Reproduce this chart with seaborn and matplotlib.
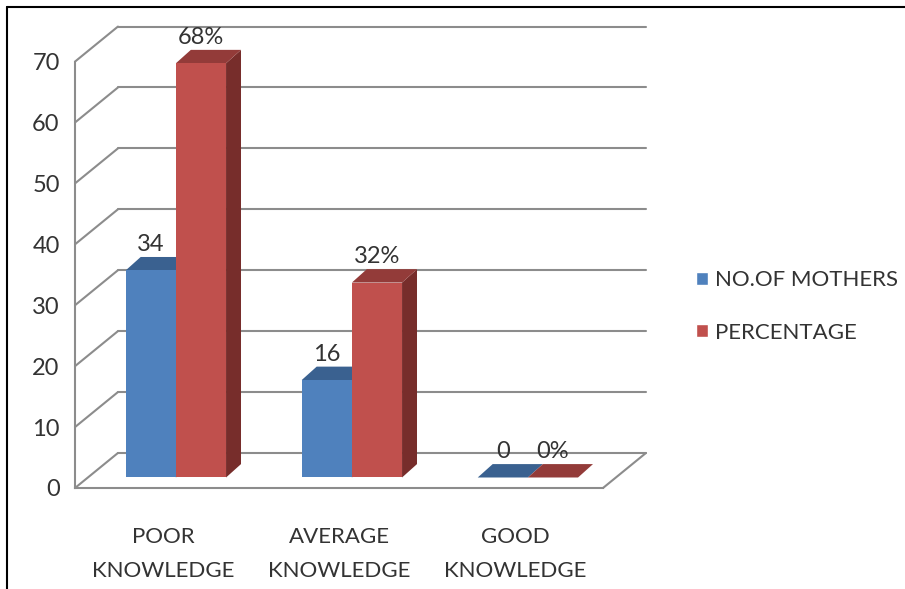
import pandas as pd
import matplotlib.pyplot as plt
import seaborn as sns
from matplotlib.patches import Polygon, Patch
from matplotlib.lines import Line2D

categories = ["POOR\nKNOWLEDGE", "AVERAGE\nKNOWLEDGE", "GOOD\nKNOWLEDGE"]
series = ["NO.OF MOTHERS", "PERCENTAGE"]
mothers = [34, 16, 0]
percentage = [68, 32, 0]
mother_labels = ["34", "16", "0"]
percent_labels = ["68%", "32%", "0%"]
yticks = [0, 10, 20, 30, 40, 50, 60, 70]

sns.set_style("white")
plt.rcParams["font.family"] = ["Lato", "DejaVu Sans"]

df = pd.DataFrame({
    "category": categories * 2,
    "series": [series[0]] * 3 + [series[1]] * 3,
    "value": mothers + percentage,
})

blue, red = "#4F81BD", "#C0504D"
tops = {blue: "#3A6190", red: "#933B39"}
sides = {blue: "#2F4F78", red: "#772D2B"}
grid_c = "#8C8C8C"
txt_c = "#333333"

fig = plt.figure(figsize=(9.05, 5.89), dpi=100)
ax = fig.add_axes([75/905, 101/589, 572/905, 466/589])

sns.barplot(data=df, x="category", y="value", hue="series",
            palette=[blue, red], width=0.57, saturation=1,
            legend=False, ax=ax, zorder=3)

# depth of the "3d" box (data units) and where bars sit in it
DX, DY = 0.244, 5.75
f = 0.3
bdx, bdy = 0.085, 2.2

ax.set_xlim(-0.5, 2.75)
ax.set_ylim(0, 76.5)

# back wall, side wall and floor lines
for v in yticks:
    ax.plot([-0.5 + DX, 2.5 + DX], [v + DY, v + DY], color=grid_c, lw=1.5, zorder=1, clip_on=False)
    ax.plot([-0.5, -0.5 + DX], [v, v + DY], color=grid_c, lw=1.5, zorder=1, clip_on=False)
ax.plot([2.5, 2.5 + DX], [0, DY], color=grid_c, lw=1.5, zorder=1, clip_on=False)

for cont, col in zip(ax.containers, [blue, red]):
    for p in cont:
        x0 = p.get_x() + f * DX
        p.set_x(x0)
        p.set_y(f * DY)
        w, h = p.get_width(), p.get_height()
        y0, y1, x1 = f * DY, f * DY + h, x0 + w
        ax.add_patch(Polygon([(x1, y0), (x1 + bdx, y0 + bdy), (x1 + bdx, y1 + bdy), (x1, y1)],
                             closed=True, color=sides[col], zorder=2.5, lw=0))
        ax.add_patch(Polygon([(x0, y1), (x1, y1), (x1 + bdx, y1 + bdy), (x0 + bdx, y1 + bdy)],
                             closed=True, color=tops[col], zorder=2.6, lw=0))
        p.set_linewidth(0)

for cont, labs in zip(ax.containers, [mother_labels, percent_labels]):
    ax.bar_label(cont, labels=labs, padding=11, fontsize=17, color=txt_c)

sns.despine(ax=ax, top=True, right=True)
ax.spines["left"].set_bounds(0, 70)
ax.spines["bottom"].set_bounds(-0.5, 2.5)
for s in ["left", "bottom"]:
    ax.spines[s].set_color(grid_c)
    ax.spines[s].set_linewidth(1.5)

ax.set_yticks(yticks)
ax.set_yticklabels([str(t) for t in yticks], fontsize=17, color=txt_c)
ax.tick_params(axis="y", length=5, width=1.5, color=grid_c, pad=6)
ax.set_xticks([0, 1, 2])
ax.set_xticklabels(categories, fontsize=16, color=txt_c, linespacing=1.9)
ax.set_xticks([-0.5, 0.5, 1.5, 2.5], minor=True)
ax.tick_params(axis="x", which="major", length=0, pad=28)
ax.tick_params(axis="x", which="minor", length=8, width=1.5, color=grid_c)
ax.set_xlabel("")
ax.set_ylabel("")

handles = [Patch(facecolor=blue), Patch(facecolor=red)]
fig.legend(handles, series, loc="center left", bbox_to_anchor=(696/905, 1 - 306.5/589),
           frameon=False, fontsize=16, handlelength=0.55, handleheight=0.55,
           handletextpad=0.3, labelspacing=1.45, borderpad=0, borderaxespad=0,
           labelcolor=txt_c)

# thin frame round the picture
fig.add_artist(Line2D([7/905, 1], [1 - 7/589, 1 - 7/589], color="black", lw=1.5))
fig.add_artist(Line2D([7/905, 7/905], [0, 1 - 7/589], color="black", lw=1.5))

fig.savefig("out.png", dpi=100)
